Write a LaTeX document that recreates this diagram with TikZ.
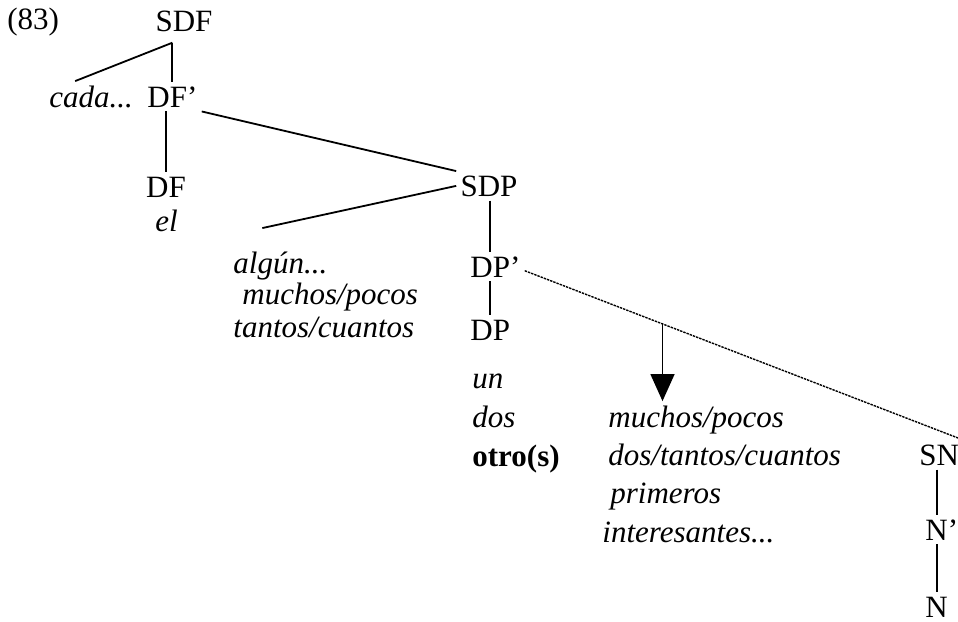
\documentclass[tikz,border=0pt]{standalone}
\usepackage{fontspec}
\setmainfont{Liberation Serif}
\usetikzlibrary{arrows.meta}

\begin{document}
\begin{tikzpicture}[
    x=0.5pt, y=-0.5pt,
    font=\fontsize{15.5}{18}\selectfont,
    cat/.style={inner sep=2pt, anchor=base},
    word/.style={inner sep=2pt, anchor=base west, font=\fontsize{15.5}{18}\selectfont\itshape},
    branch/.style={line width=0.9pt},
    trace/.style={line width=0.7pt, dash pattern=on 1.2pt off 0.5pt},
    arrow/.style={-{Triangle[width=12pt,length=13.5pt]}, line width=0.7pt}
]
\useasboundingbox (0,0) rectangle (958,621);

\node[cat, anchor=base west] (ex) at (3,29) {(83)};
\node[cat, inner ysep=5pt] (SDF) at (184,32) {SDF};
\node[word] (cada) at (45,107) {cada...};
\node[cat, anchor=base west] (DFp) at (143,107) {DF'};
\node[cat] (DF) at (166,197) {DF};
\node[word] (el) at (151,231) {el};

\node[cat] (SDP) at (489,196) {SDP};
\node[word] (algun) at (229,273) {algún...};
\node[word] (mp1) at (238,304) {muchos/pocos};
\node[word] (tc1) at (229,337) {tantos/cuantos};
\node[cat, anchor=base west] (DPp) at (466,277) {DP'};
\node[cat, anchor=base west] (DP) at (466,340) {DP};
\node[word] (un) at (468,388) {un};
\node[word] (dos) at (468,427) {dos};
\node[cat, anchor=base west, font=\fontsize{15.5}{18}\selectfont\bfseries] (otro) at (468,466) {otro(s)};

\node[word] (mp2) at (604,427) {muchos/pocos};
\node[word] (dtc) at (604,465) {dos/tantos/cuantos};
\node[word] (prim) at (606,503) {primeros};
\node[word] (inter) at (598,542) {interesantes...};

\node[cat, anchor=base west] (SN) at (915,465) {SN};
\node[cat, anchor=base west] (Np) at (921,540) {N'};
\node[cat, anchor=base west] (N) at (921,617) {N};

\draw[branch] (DFp.north |- SDF.south) -- (DFp.north);
\draw[branch] (DFp.north |- SDF.south) -- ([xshift=-8pt]cada.north);
\draw[branch] (DF.north |- DFp.south) -- (DF.north);
\draw[branch] (DFp.south east) -- (SDP.north west);
\draw[branch] (SDP.west) -- ([xshift=-9pt,yshift=9.5pt]algun.north);
\draw[branch] (DP.north |- SDP.south) -- (DP.north |- DPp.north);
\draw[branch] (DP.north |- DPp.south) -- (DP.north);
\draw[trace] ([yshift=-2pt]DPp.east) -- coordinate[pos=0.314] (fork) (SN.north east);
\draw[arrow] (fork) -- (fork |- mp2.north);
\draw[branch] (N.north |- SN.south) -- (N.north |- Np.north);
\draw[branch] (N.north |- Np.south) -- (N.north);
\end{tikzpicture}
\end{document}
